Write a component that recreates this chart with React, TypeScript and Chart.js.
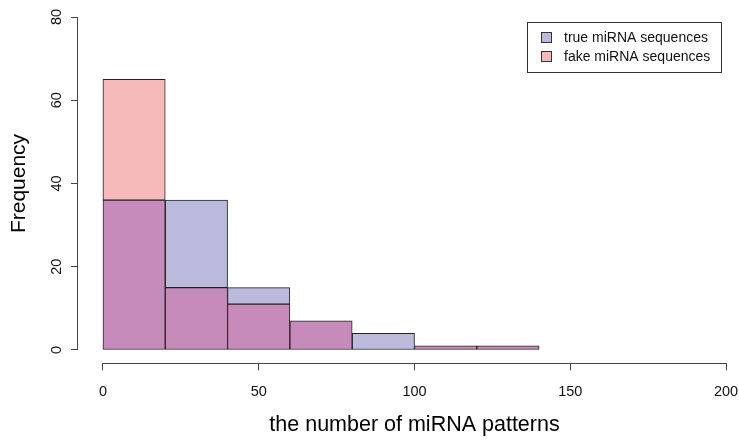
import { useEffect, useRef } from "react";
import { Chart, registerables } from "chart.js";

Chart.register(...registerables);

// ---- data ----
const BIN_EDGES = [0, 20, 40, 60, 80, 100, 120, 140];
const TRUE_COUNTS = [36, 36, 15, 7, 4, 1, 1];
const FAKE_COUNTS = [65, 15, 11, 7, 0, 1, 1];
const SERIES_NAMES = ["true miRNA sequences", "fake miRNA sequences"];
const X_TICKS = [0, 50, 100, 150, 200];
const Y_TICKS = [0, 20, 40, 60, 80];
const X_TITLE = "the number of miRNA patterns";
const Y_TITLE = "Frequency";

// ---- styles ----
const COL_TRUE = "#BBBADD";
const COL_FAKE = "#F6BABB";
const COL_BOTH = "#C78BBB";
const EDGE = "#222";
const AXIS = "#444";
const FONT = "'Liberation Sans', Arial, Helvetica, sans-serif";

const CANVAS_W = 760;
const CANVAS_H = 441;

function ext(ticks: number[]) {
  const lo = ticks[0];
  const hi = ticks[ticks.length - 1];
  const d = (hi - lo) * 0.04;
  return [lo - d, hi + d];
}

const axesPlugin = {
  id: "rAxes",
  afterDraw(chart: any) {
    const { ctx, chartArea, scales } = chart;
    const xs = scales.x;
    const ys = scales.y;
    ctx.save();
    ctx.strokeStyle = AXIS;
    ctx.lineWidth = 1;
    ctx.beginPath();
    const yb = Math.round(chartArea.bottom) + 0.5;
    ctx.moveTo(xs.getPixelForValue(X_TICKS[0]), yb);
    ctx.lineTo(xs.getPixelForValue(X_TICKS[X_TICKS.length - 1]), yb);
    const xl = Math.round(chartArea.left) - 0.5;
    ctx.moveTo(xl, ys.getPixelForValue(Y_TICKS[0]));
    ctx.lineTo(xl, ys.getPixelForValue(Y_TICKS[Y_TICKS.length - 1]));
    ctx.stroke();

    // legend
    const bx = 527.5, by = 22.5, bw = 194, bh = 50;
    ctx.fillStyle = "#fff";
    ctx.fillRect(bx, by, bw, bh);
    ctx.strokeStyle = "#333";
    ctx.strokeRect(bx, by, bw, bh);
    const rows = [38, 57];
    const cols = [COL_TRUE, COL_FAKE];
    ctx.font = `14px ${FONT}`;
    ctx.textBaseline = "middle";
    ctx.textAlign = "left";
    SERIES_NAMES.forEach((name, i) => {
      const cy = rows[i];
      ctx.fillStyle = cols[i];
      ctx.fillRect(541.5, cy - 5.5, 10, 10);
      ctx.strokeStyle = "#333";
      ctx.strokeRect(541.5, cy - 5.5, 10, 10);
      ctx.fillStyle = "#111";
      ctx.fillText(name, 564, cy + 0.5);
    });
    ctx.restore();
  },
};

export default function App() {
  const ref = useRef<HTMLCanvasElement | null>(null);

  useEffect(() => {
    if (!ref.current) return;
    const centers = BIN_EDGES.slice(0, -1).map((e, i) => (e + BIN_EDGES[i + 1]) / 2);
    const lows = TRUE_COUNTS.map((t, i) => Math.min(t, FAKE_COUNTS[i]));
    const highs = TRUE_COUNTS.map((t, i) => Math.max(t, FAKE_COUNTS[i]));
    const [xMin, xMax] = ext(X_TICKS);
    const [yMin, yMax] = ext(Y_TICKS);

    const chart = new Chart(ref.current, {
      type: "bar",
      data: {
        datasets: [
          {
            label: "overlap",
            data: centers.map((c, i) => ({ x: c, y: lows[i] > 0 ? [0, lows[i]] : null })) as any,
            backgroundColor: COL_BOTH,
            borderColor: EDGE,
            borderWidth: 1,
            borderSkipped: false,
            grouped: false,
            barPercentage: 1,
            categoryPercentage: 1,
          },
          {
            label: "excess",
            data: centers.map((c, i) => ({
              x: c,
              y: highs[i] > lows[i] ? [lows[i], highs[i]] : null,
            })) as any,
            backgroundColor: TRUE_COUNTS.map((t, i) => (t >= FAKE_COUNTS[i] ? COL_TRUE : COL_FAKE)),
            borderColor: EDGE,
            borderWidth: 1,
            borderSkipped: false,
            grouped: false,
            barPercentage: 1,
            categoryPercentage: 1,
          },
        ],
      },
      options: {
        responsive: false,
        animation: false,
        devicePixelRatio: 1,
        layout: { padding: { top: 3.7, right: CANVAS_W - 751, left: 0, bottom: 0 } },
        plugins: {
          legend: { display: false },
          tooltip: { enabled: false },
        },
        scales: {
          x: {
            type: "linear",
            offset: false,
            min: xMin,
            max: xMax,
            afterBuildTicks: (s: any) => {
              s.ticks = X_TICKS.map((v) => ({ value: v }));
            },
            afterFit: (s: any) => {
              s.height = CANVAS_H - 363.3;
              s.paddingLeft = 0;
              s.paddingRight = 0;
            },
            border: { display: false },
            grid: { offset: false, drawOnChartArea: false, drawTicks: true, tickLength: 7, color: AXIS },
            ticks: {
              font: { family: FONT, size: 14.5 },
              color: "#111",
              padding: 13,
              maxRotation: 0,
              autoSkip: false,
            },
            title: {
              display: true,
              text: X_TITLE,
              font: { family: FONT, size: 21.5 },
              color: "#000",
              padding: { top: 0, bottom: 2.6 },
            },
          },
          y: {
            type: "linear",
            min: yMin,
            max: yMax,
            afterBuildTicks: (s: any) => {
              s.ticks = Y_TICKS.map((v) => ({ value: v }));
            },
            afterFit: (s: any) => {
              s.width = 78;
              s.paddingTop = 0;
              s.paddingBottom = 0;
            },
            border: { display: false },
            grid: { drawOnChartArea: false, drawTicks: true, tickLength: 7, color: AXIS },
            ticks: {
              font: { family: FONT, size: 14.5 },
              color: "#111",
              padding: 5.5,
              minRotation: 90,
              maxRotation: 90,
              crossAlign: "center",
              autoSkip: false,
            },
            title: {
              display: true,
              text: Y_TITLE,
              font: { family: FONT, size: 21 },
              color: "#000",
              padding: { top: 7, bottom: 0 },
            },
          },
        },
      },
      plugins: [axesPlugin],
    });
    return () => chart.destroy();
  }, []);

  return (
    <div
      style={{
        position: "fixed",
        left: 0,
        top: 0,
        width: 739,
        height: 441,
        overflow: "hidden",
        background: "#fff",
      }}
    >
      <canvas ref={ref} width={CANVAS_W} height={CANVAS_H} style={{ display: "block" }} />
    </div>
  );
}
